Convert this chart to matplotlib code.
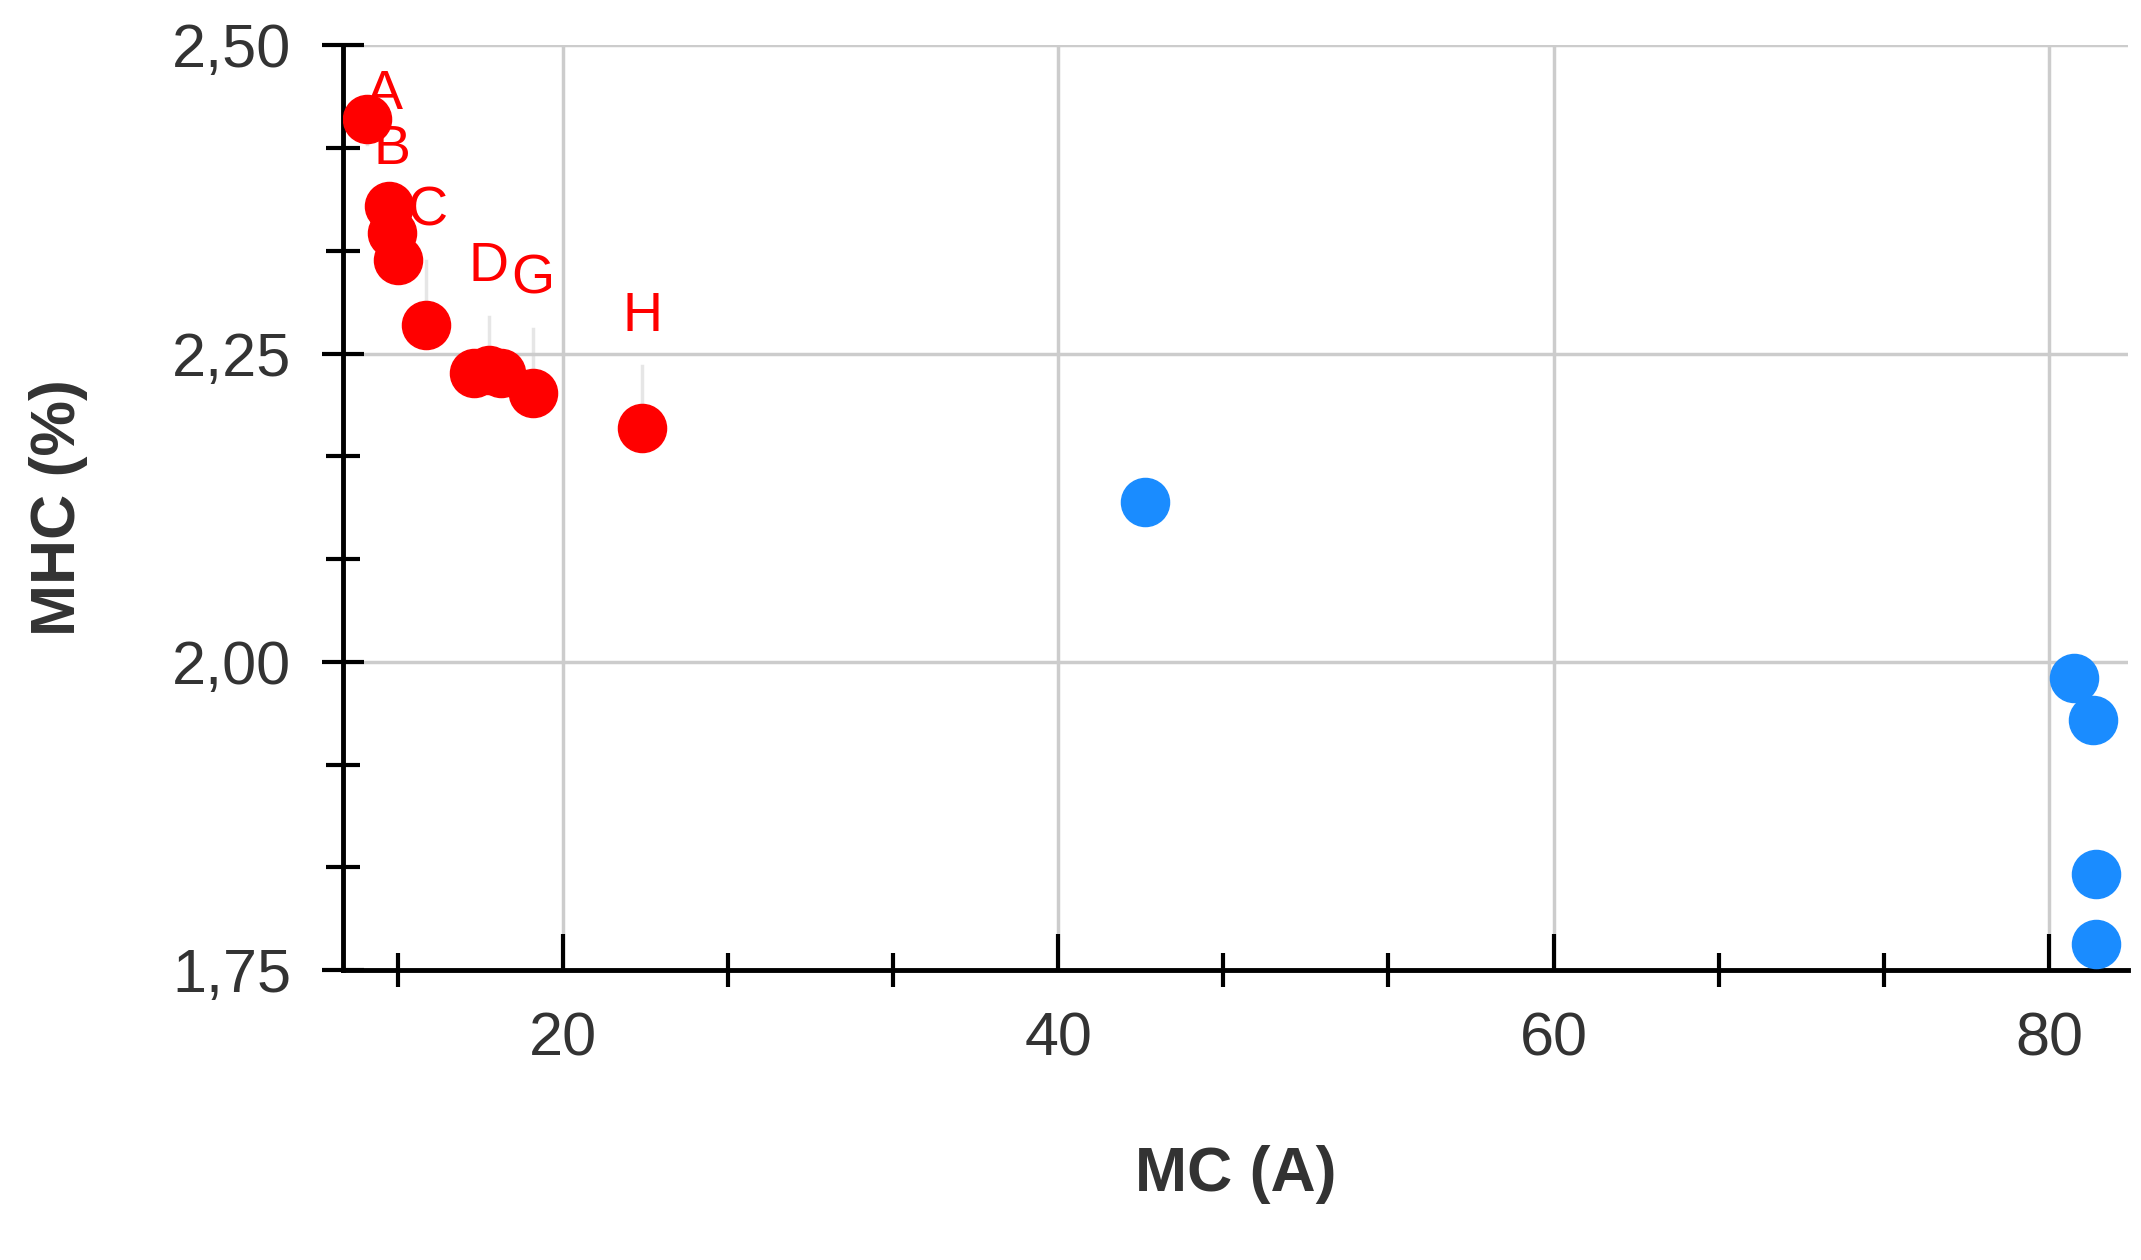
import numpy as np
import matplotlib.pyplot as plt
from matplotlib.ticker import FixedLocator

plt.rcParams['font.family'] = ['Liberation Sans', 'DejaVu Sans']

red_x = [12.1, 12.96, 13.1, 13.35, 14.46, 16.4, 17.0, 17.5, 18.8, 23.2]
red_y = [2.44, 2.370, 2.348, 2.326, 2.273, 2.234, 2.237, 2.234, 2.218, 2.190]
blue_x = [43.5, 81.0, 81.8, 81.9, 81.9]
blue_y = [2.130, 1.987, 1.953, 1.828, 1.771]

# labels: (text, point index, label x, label y)
labels = [("A", 0, 12.8, 2.46), ("B", 1, 13.1, 2.415), ("C", 4, 14.5, 2.365),
          ("D", 6, 17.0, 2.32), ("G", 8, 18.8, 2.31), ("H", 9, 23.2, 2.28)]

fig = plt.figure(figsize=(21.41, 12.6), dpi=100)
ax = fig.add_axes([0.16, 0.23, 0.834, 0.734])

ax.set_xlim(11.1, 83.2)
ax.set_ylim(1.75, 2.50)
ax.grid(True, color='#cccccc', linewidth=2.5, zorder=0)
ax.set_xticks([20, 40, 60, 80])
ax.set_yticks([1.75, 2.00, 2.25, 2.50])
ax.set_yticklabels(['1,75', '2,00', '2,25', '2,50'])
ax.xaxis.set_minor_locator(FixedLocator([20 - 20 / 3] + [20 + 20 / 3 * k for k in range(1, 10) if k % 3]))
ax.yaxis.set_minor_locator(FixedLocator([1.75 + 0.25 / 3 * k for k in range(1, 9) if k % 3]))
ax.tick_params(axis='y', which='major', direction='inout', length=30, width=3,
               labelsize=44, colors='black', labelcolor='#333333', pad=22)
ax.tick_params(axis='x', which='major', direction='in', length=26, width=3,
               labelsize=44, colors='black', labelcolor='#333333', pad=30)
ax.tick_params(axis='both', which='minor', direction='inout', length=24, width=3, colors='black')
for s in ['top', 'right']:
    ax.spines[s].set_visible(False)
for s in ['left', 'bottom']:
    ax.spines[s].set_linewidth(3.5)
    ax.spines[s].set_color('black')

for text, i, lx, ly in labels:
    ax.plot([red_x[i], red_x[i]], [red_y[i], ly - 0.04], color='#e6e6e6', lw=2.5, zorder=1)
    ax.text(lx, ly, text, color='red', fontsize=40, ha='center', va='center', zorder=4)

ax.scatter(red_x, red_y, s=1200, color='#ff0000', zorder=3)
ax.scatter(blue_x, blue_y, s=1200, color='#1a8cff', zorder=3)

ax.set_xlabel('MC (A)', fontsize=45, fontweight='bold', color='#333333', labelpad=55)
ax.set_ylabel('MHC (%)', fontsize=45, fontweight='bold', color='#333333', labelpad=60)

fig.savefig('out.png', dpi=100)
